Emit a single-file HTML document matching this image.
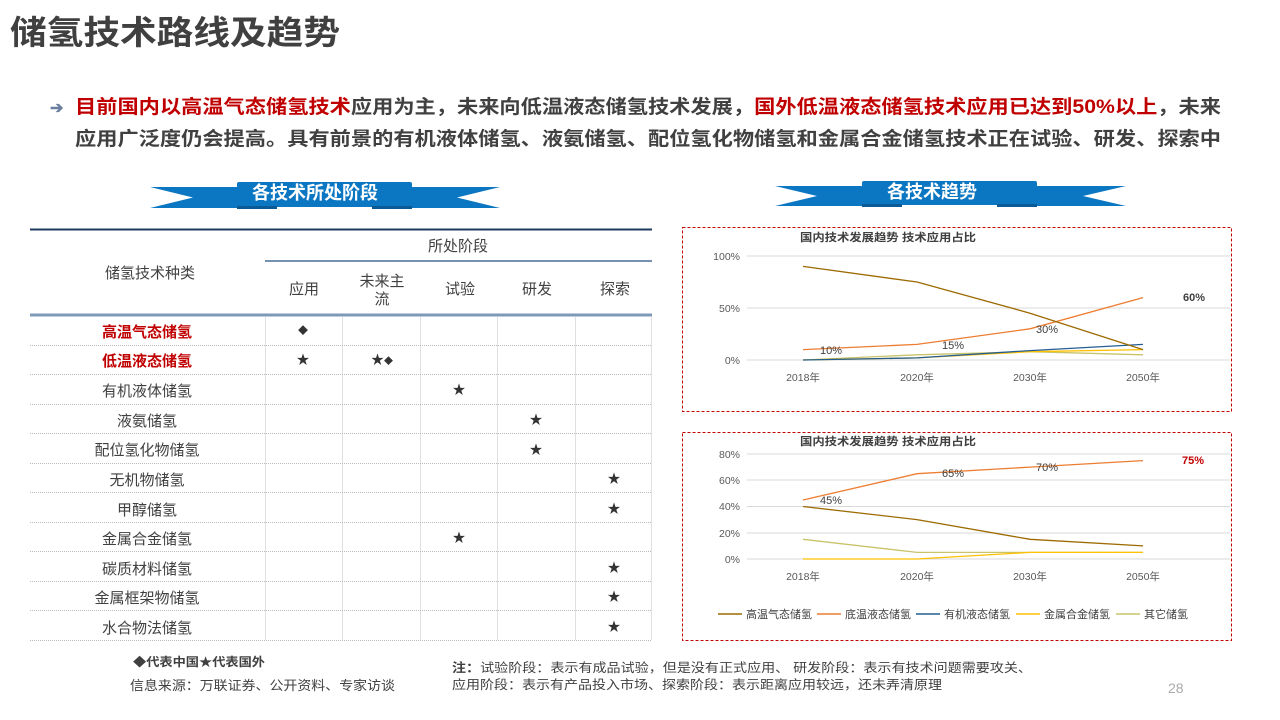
<!DOCTYPE html>
<html><head><meta charset="utf-8"><style>
html,body{margin:0;padding:0;background:#fff;width:1280px;height:720px;overflow:hidden}
svg{display:block;font-family:"Liberation Sans","Noto Sans CJK SC",sans-serif}
</style></head><body>
<svg width="1280" height="720" viewBox="0 0 1280 720" xmlns="http://www.w3.org/2000/svg">
<text x="10" y="44" font-size="33" font-weight="bold" fill="#404040" textLength="330" lengthAdjust="spacingAndGlyphs">储氢技术路线及趋势</text>
<text x="50" y="113" font-size="16" fill="#6a7fa0" font-weight="bold">➔</text>
<text x="75" y="113" font-size="19" font-weight="bold" fill="#404040" textLength="1146" lengthAdjust="spacingAndGlyphs"><tspan fill="#c00000">目前国内以高温气态储氢技术</tspan>应用为主，未来向低温液态储氢技术发展，<tspan fill="#c00000">国外低温液态储氢技术应用已达到50%以上</tspan>，未来</text>
<text x="75" y="145" font-size="19" font-weight="bold" fill="#404040" textLength="1146" lengthAdjust="spacingAndGlyphs">应用广泛度仍会提高。具有前景的有机液体储氢、液氨储氢、配位氢化物储氢和金属合金储氢技术正在试验、研发、探索中</text>

<!-- ribbons -->
<g fill="#0b76c1">
<polygon points="150,187 240,187 240,208 150,208 193,197.5"/>
<polygon points="500,187 410,187 410,208 500,208 457,197.5"/>
<rect x="237" y="182" width="175" height="25" rx="2"/>
<polygon points="775,186 865,186 865,206 775,206 817,196"/>
<polygon points="1126,186 1035,186 1035,206 1126,206 1083,196"/>
<rect x="862" y="181" width="175" height="24" rx="2"/>
</g>
<rect x="237" y="206" width="40" height="3" fill="#0a5a95"/><rect x="372" y="206" width="40" height="3" fill="#0a5a95"/>
<rect x="862" y="204" width="40" height="3" fill="#0a5a95"/><rect x="997" y="204" width="40" height="3" fill="#0a5a95"/>
<text x="315" y="199" font-size="18" font-weight="bold" fill="#fff" text-anchor="middle">各技术所处阶段</text>
<text x="932" y="198" font-size="18" font-weight="bold" fill="#fff" text-anchor="middle">各技术趋势</text>

<!-- table -->
<line x1="30" y1="229.5" x2="652" y2="229.5" stroke="#1f3a5f" stroke-width="2"/>
<line x1="265" y1="261" x2="652" y2="261" stroke="#4a6e96" stroke-width="1.5"/>
<line x1="30" y1="315" x2="652" y2="315" stroke="#7f9ab8" stroke-width="3"/>
<g font-size="15" fill="#404040" text-anchor="middle">
<text x="458" y="251">所处阶段</text>
<text x="150" y="278">储氢技术种类</text>
<text x="304" y="294">应用</text>
<text x="382" y="286">未来主</text><text x="382" y="304">流</text>
<text x="460" y="294">试验</text>
<text x="537" y="294">研发</text>
<text x="615" y="294">探索</text>
</g>
<g stroke="#e0e0e0" stroke-width="1">
<line x1="265.5" y1="317" x2="265.5" y2="640"/><line x1="342.5" y1="317" x2="342.5" y2="640"/><line x1="420.5" y1="317" x2="420.5" y2="640"/><line x1="497.5" y1="317" x2="497.5" y2="640"/><line x1="575.5" y1="317" x2="575.5" y2="640"/><line x1="651.5" y1="317" x2="651.5" y2="640"/>
</g>
<g stroke="#bbb" stroke-width="1" stroke-dasharray="1,1">
<line x1="30" y1="345.5" x2="652" y2="345.5"/><line x1="30" y1="374.5" x2="652" y2="374.5"/><line x1="30" y1="404.5" x2="652" y2="404.5"/><line x1="30" y1="433.5" x2="652" y2="433.5"/><line x1="30" y1="463.5" x2="652" y2="463.5"/><line x1="30" y1="492.5" x2="652" y2="492.5"/><line x1="30" y1="522.5" x2="652" y2="522.5"/><line x1="30" y1="551.5" x2="652" y2="551.5"/><line x1="30" y1="581.5" x2="652" y2="581.5"/><line x1="30" y1="610.5" x2="652" y2="610.5"/><line x1="30" y1="640.5" x2="652" y2="640.5"/>
</g>
<g font-size="15" fill="#404040" text-anchor="middle">
<text x="147" y="337" fill="#c00000" font-weight="bold">高温气态储氢</text>
<text x="147" y="366" fill="#c00000" font-weight="bold">低温液态储氢</text>
<text x="147" y="396">有机液体储氢</text>
<text x="147" y="426">液氨储氢</text>
<text x="147" y="455">配位氢化物储氢</text>
<text x="147" y="485">无机物储氢</text>
<text x="147" y="515">甲醇储氢</text>
<text x="147" y="544">金属合金储氢</text>
<text x="147" y="574">碳质材料储氢</text>
<text x="147" y="603">金属框架物储氢</text>
<text x="147" y="633">水合物法储氢</text>
</g>
<g font-size="13" fill="#333" text-anchor="middle">
<text x="303" y="334" font-size="10">◆</text>
<text x="303" y="364">★</text>
<text x="382" y="364">★<tspan font-size="9">◆</tspan></text>
<text x="459" y="394">★</text>
<text x="536" y="424">★</text>
<text x="536" y="454">★</text>
<text x="614" y="483">★</text>
<text x="614" y="513">★</text>
<text x="459" y="542">★</text>
<text x="614" y="572">★</text>
<text x="614" y="601">★</text>
<text x="614" y="631">★</text>
</g>
<text x="133" y="666" font-size="12" font-weight="bold" fill="#404040" textLength="132" lengthAdjust="spacingAndGlyphs">◆代表中国★代表国外</text>
<text x="130" y="690" font-size="13" fill="#404040" textLength="265" lengthAdjust="spacingAndGlyphs">信息来源：万联证券、公开资料、专家访谈</text>
<text x="452" y="672" font-size="12.5" fill="#404040" textLength="580" lengthAdjust="spacingAndGlyphs"><tspan font-weight="bold">注：</tspan>试验阶段：表示有成品试验，但是没有正式应用、 研发阶段：表示有技术问题需要攻关、</text>
<text x="452" y="689" font-size="12.5" fill="#404040" textLength="490" lengthAdjust="spacingAndGlyphs">应用阶段：表示有产品投入市场、探索阶段：表示距离应用较远，还未弄清原理</text>
<text x="1168" y="693" font-size="14" fill="#aaa">28</text>

<!-- chart 1 -->
<rect x="682.5" y="227.5" width="549" height="184" fill="none" stroke="#c00000" stroke-dasharray="3,2"/>
<text x="800" y="241" font-size="11" font-weight="bold" fill="#404040" textLength="176" lengthAdjust="spacingAndGlyphs">国内技术发展趋势  技术应用占比</text>
<g stroke="#d9d9d9"><line x1="747" y1="256" x2="1230" y2="256"/><line x1="747" y1="308" x2="1230" y2="308"/><line x1="747" y1="360" x2="1230" y2="360"/></g>
<g font-size="10.5" fill="#595959" text-anchor="end"><text x="740" y="260">100%</text><text x="740" y="312">50%</text><text x="740" y="364">0%</text></g>
<g font-size="10.5" fill="#595959" text-anchor="middle"><text x="803" y="381">2018年</text><text x="917" y="381">2020年</text><text x="1030" y="381">2030年</text><text x="1143" y="381">2050年</text></g>
<g fill="none" stroke-width="1.3">
<polyline stroke="#c9c36a" points="803,360 917,354.8 1030,351.7 1143,354.8"/>
<polyline stroke="#ffc000" points="803,360 917,357.9 1030,351.7 1143,349.6"/>
<polyline stroke="#255e91" points="803,360 917,357.9 1030,350.6 1143,344.4"/>
<polyline stroke="#ed7d31" points="803,349.6 917,344.4 1030,328.8 1143,297.6"/>
<polyline stroke="#9c6a00" points="803,266.4 917,282 1030,313.2 1143,349.6"/>
</g>
<g font-size="11" fill="#404040"><text x="820" y="354">10%</text><text x="942" y="349">15%</text><text x="1036" y="333">30%</text><text x="1183" y="301" font-weight="bold">60%</text></g>

<!-- chart 2 -->
<rect x="682.5" y="432.5" width="549" height="208" fill="none" stroke="#c00000" stroke-dasharray="3,2"/>
<text x="800" y="445" font-size="11" font-weight="bold" fill="#404040" textLength="176" lengthAdjust="spacingAndGlyphs">国内技术发展趋势  技术应用占比</text>
<g stroke="#d9d9d9"><line x1="747" y1="454" x2="1230" y2="454"/><line x1="747" y1="480" x2="1230" y2="480"/><line x1="747" y1="506.5" x2="1230" y2="506.5"/><line x1="747" y1="533" x2="1230" y2="533"/><line x1="747" y1="559" x2="1230" y2="559"/></g>
<g font-size="10.5" fill="#595959" text-anchor="end"><text x="740" y="458">80%</text><text x="740" y="484">60%</text><text x="740" y="510">40%</text><text x="740" y="537">20%</text><text x="740" y="563">0%</text></g>
<g font-size="10.5" fill="#595959" text-anchor="middle"><text x="803" y="580">2018年</text><text x="917" y="580">2020年</text><text x="1030" y="580">2030年</text><text x="1143" y="580">2050年</text></g>
<g fill="none" stroke-width="1.3">
<polyline stroke="#c9c36a" points="803,539.3 917,552.4 1030,552.4 1143,552.4"/>
<polyline stroke="#ffc000" points="803,559 917,559 1030,552.4 1143,552.4"/>
<polyline stroke="#ed7d31" points="803,500 917,473.7 1030,467.1 1143,460.6"/>
<polyline stroke="#9c6a00" points="803,506.5 917,519.6 1030,539.3 1143,545.9"/>
</g>
<g font-size="11" fill="#404040"><text x="820" y="504">45%</text><text x="942" y="477">65%</text><text x="1036" y="471">70%</text><text x="1182" y="464" font-weight="bold" fill="#c00000">75%</text></g>
<g font-size="11" fill="#404040">
<line x1="718" y1="614" x2="742" y2="614" stroke="#9c6a00" stroke-width="1.5"/><text x="746" y="618" textLength="66" lengthAdjust="spacingAndGlyphs">高温气态储氢</text>
<line x1="817" y1="614" x2="841" y2="614" stroke="#ed7d31" stroke-width="1.5"/><text x="845" y="618" textLength="66" lengthAdjust="spacingAndGlyphs">底温液态储氢</text>
<line x1="916" y1="614" x2="940" y2="614" stroke="#255e91" stroke-width="1.5"/><text x="944" y="618" textLength="66" lengthAdjust="spacingAndGlyphs">有机液态储氢</text>
<line x1="1016" y1="614" x2="1040" y2="614" stroke="#ffc000" stroke-width="1.5"/><text x="1044" y="618" textLength="66" lengthAdjust="spacingAndGlyphs">金属合金储氢</text>
<line x1="1116" y1="614" x2="1140" y2="614" stroke="#c9c36a" stroke-width="1.5"/><text x="1144" y="618" textLength="44" lengthAdjust="spacingAndGlyphs">其它储氢</text>
</g>
</svg>
</body></html>
